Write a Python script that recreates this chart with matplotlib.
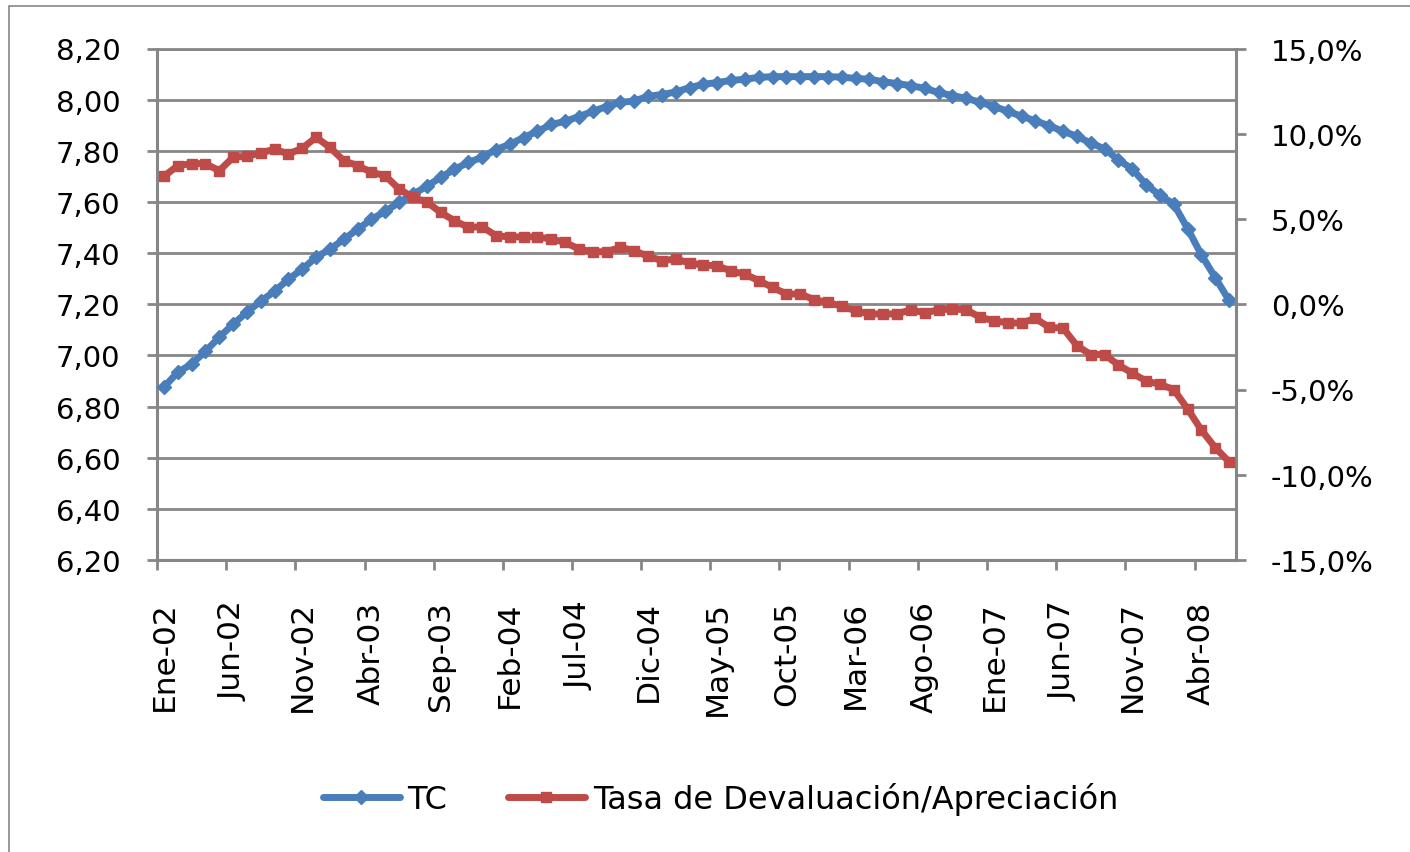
import numpy as np
import matplotlib
matplotlib.use("Agg")
import matplotlib.pyplot as plt
from matplotlib.ticker import FixedLocator, FuncFormatter
from matplotlib.patches import Rectangle

plt.rcParams['font.family'] = ['DejaVu Sans']

# ---- data (monthly, Ene-02 .. Jun-08) ----
tc = [6.876, 6.934, 6.966, 7.016, 7.071, 7.122, 7.169, 7.212, 7.251, 7.298,
      7.337, 7.384, 7.415, 7.454, 7.493, 7.532, 7.563, 7.598, 7.630, 7.661,
      7.696, 7.727, 7.755, 7.774, 7.805, 7.825, 7.852, 7.876, 7.903, 7.915,
      7.934, 7.954, 7.973, 7.989, 7.995, 8.013, 8.020, 8.030, 8.047, 8.060,
      8.067, 8.075, 8.080, 8.087, 8.090, 8.090, 8.090, 8.090, 8.090, 8.088,
      8.083, 8.080, 8.070, 8.063, 8.055, 8.044, 8.028, 8.016, 8.005, 7.990,
      7.973, 7.955, 7.935, 7.917, 7.898, 7.876, 7.857, 7.830, 7.808, 7.764,
      7.729, 7.668, 7.626, 7.592, 7.496, 7.393, 7.304, 7.215]

tasa = [7.50, 8.13, 8.25, 8.25, 7.83, 8.62, 8.68, 8.87, 9.10, 8.81,
        9.15, 9.79, 9.20, 8.42, 8.13, 7.74, 7.54, 6.76, 6.27, 6.00,
        5.39, 4.90, 4.51, 4.55, 4.02, 3.95, 3.95, 3.95, 3.83, 3.63,
        3.24, 3.08, 3.08, 3.34, 3.14, 2.81, 2.56, 2.65, 2.42, 2.30,
        2.26, 1.94, 1.77, 1.38, 0.99, 0.60, 0.60, 0.27, 0.11, -0.12,
        -0.38, -0.57, -0.57, -0.57, -0.32, -0.51, -0.32, -0.28, -0.32, -0.77,
        -0.96, -1.10, -1.10, -0.83, -1.36, -1.40, -2.43, -2.95, -2.95, -3.56,
        -4.04, -4.50, -4.70, -5.00, -6.14, -7.38, -8.41, -9.24]

tick_labels = ["Ene-02", "Jun-02", "Nov-02", "Abr-03", "Sep-03", "Feb-04",
               "Jul-04", "Dic-04", "May-05", "Oct-05", "Mar-06", "Ago-06",
               "Ene-07", "Jun-07", "Nov-07", "Abr-08"]
left_ticks = [6.2, 6.4, 6.6, 6.8, 7.0, 7.2, 7.4, 7.6, 7.8, 8.0, 8.2]
right_ticks = [-15, -10, -5, 0, 5, 10, 15]
series_names = ["TC", "Tasa de Devaluación/Apreciación"]

BLUE = "#4A7EBB"
RED = "#BE4B48"
GRAY = "#868686"

W, H = 1410, 853
fig = plt.figure(figsize=(W / 100, H / 100), dpi=100)
ax = fig.add_axes([157 / W, 1 - 561 / H, (1236 - 157) / W, (561 - 49.5) / H])

x = np.arange(len(tc))
l1, = ax.plot(x, tc, color=BLUE, lw=5, marker="D", ms=7,
              solid_joinstyle="round", solid_capstyle="round", zorder=3)
ax2 = ax.twinx()
l2, = ax2.plot(x, tasa, color=RED, lw=5, marker="s", ms=6.5,
               solid_joinstyle="round", solid_capstyle="round", zorder=3)

ax.set_xlim(-0.5, len(tc) - 0.5)
ax.set_ylim(6.2, 8.2)
ax2.set_ylim(-15, 15)

ax.yaxis.set_major_locator(FixedLocator(left_ticks))
ax.yaxis.set_major_formatter(FuncFormatter(lambda v, p: f"{v:.2f}".replace(".", ",")))
ax2.yaxis.set_major_locator(FixedLocator(right_ticks))
ax2.yaxis.set_major_formatter(FuncFormatter(lambda v, p: f"{v:.1f}%".replace(".", ",")))

label_pos = [5 * k for k in range(len(tick_labels))]
ax.set_xticks(label_pos)
ax.set_xticklabels(tick_labels, rotation=90, fontsize=22.5)
ax.set_xticks([p - 0.5 for p in label_pos], minor=True)
ax.tick_params(axis="x", which="major", length=0, pad=29)
ax.tick_params(axis="x", which="minor", length=7.2, width=2, color=GRAY)
ax.tick_params(axis="y", which="major", length=7.2, width=2, color=GRAY,
               labelsize=21, pad=19)
ax2.tick_params(axis="y", which="major", length=7.2, width=2, color=GRAY,
                labelsize=21, pad=18)

ax.grid(axis="y", color=GRAY, lw=2)
ax.set_axisbelow(True)

for s in ["left", "bottom"]:
    ax.spines[s].set_color(GRAY)
    ax.spines[s].set_linewidth(2.2)
ax.spines["top"].set_color(GRAY)
ax.spines["top"].set_linewidth(2)
ax.spines["right"].set_visible(False)
for s in ["left", "bottom", "top"]:
    ax2.spines[s].set_visible(False)
ax2.spines["right"].set_color(GRAY)
ax2.spines["right"].set_linewidth(2.2)

fig.legend(handles=[l1, l2], labels=series_names, loc="center",
           bbox_to_anchor=(0.511, 1 - 800 / H), ncol=2, frameon=False,
           fontsize=23, handlelength=2.4, columnspacing=1.9,
           handletextpad=0.25, numpoints=1)

fig.add_artist(Rectangle((8.5 / W, -0.1), 1.2, (1 - 7 / H) + 0.1,
                         transform=fig.transFigure, fill=False,
                         edgecolor=GRAY, lw=1.2))

fig.savefig("out.png", dpi=100)
